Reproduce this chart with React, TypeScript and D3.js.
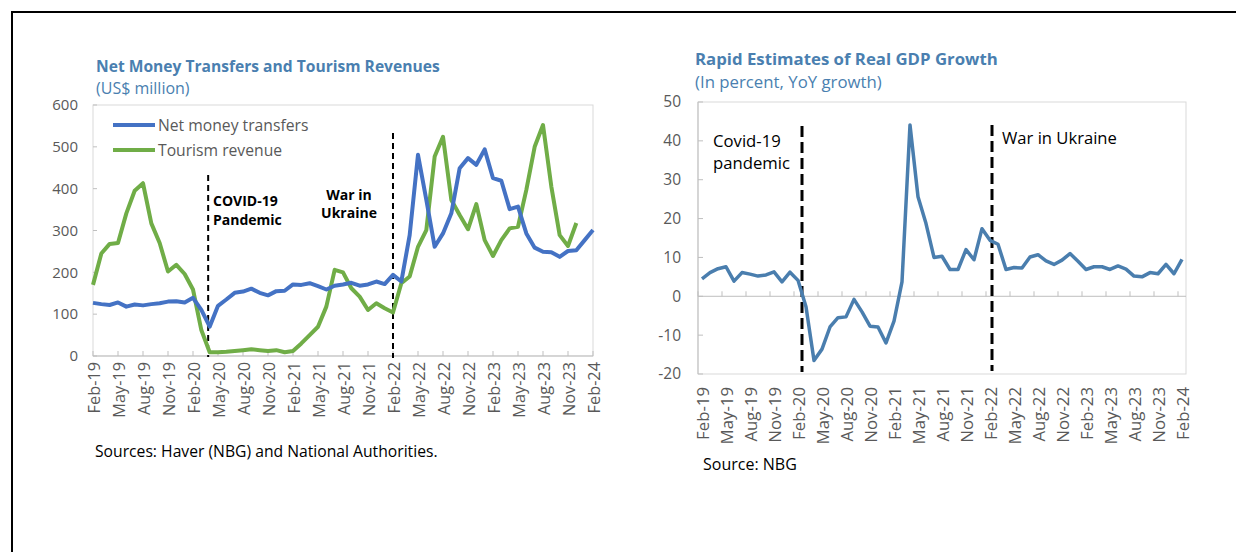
import React from 'react';
import * as d3 from 'd3';

// monthly categories Feb-19 .. Feb-24
const months = d3.timeMonth.range(new Date(2019, 1, 1), new Date(2024, 2, 1));
const tickLabels = [
  'Feb-19', 'May-19', 'Aug-19', 'Nov-19', 'Feb-20', 'May-20', 'Aug-20', 'Nov-20',
  'Feb-21', 'May-21', 'Aug-21', 'Nov-21', 'Feb-22', 'May-22', 'Aug-22', 'Nov-22',
  'Feb-23', 'May-23', 'Aug-23', 'Nov-23', 'Feb-24',
];

// US$ million
const netTransfers = [
  127, 124, 122, 128, 118, 123, 121, 124, 126, 130,
  131, 128, 139, 110, 70, 120, 135, 151, 154, 161,
  151, 145, 155, 156, 171, 170, 174, 167, 159, 168,
  171, 175, 168, 171, 178, 172, 194, 178, 289, 481,
  373, 261, 293, 341, 449, 473, 457, 494, 425, 419,
  351, 357, 293, 259, 249, 248, 237, 251, 253, 277,
  301,
];
const tourism = [
  170, 245, 268, 270, 341, 395, 413, 317, 270, 202,
  218, 196, 159, 62, 9, 9, 10, 12, 14, 16,
  14, 12, 14, 9, 12, 30, 50, 70, 118, 206,
  200, 162, 142, 110, 126, 114, 104, 174, 190, 261,
  301, 477, 524, 373, 337, 303, 363, 277, 239, 277,
  305, 309, 397, 500, 552, 405, 289, 263, 318,
];
// percent, YoY
const gdpGrowth = [
  4.5, 6.1, 7.1, 7.6, 3.9, 6.1, 5.7, 5.2, 5.5, 6.3,
  3.7, 6.2, 4.1, -2.7, -16.5, -13.6, -7.9, -5.5, -5.3, -0.8,
  -4.0, -7.7, -7.9, -12.0, -6.4, 3.7, 44.1, 25.6, 18.7, 10.0,
  10.3, 6.9, 6.9, 12.0, 9.4, 17.4, 14.4, 13.4, 6.9, 7.4,
  7.3, 10.1, 10.7, 9.1, 8.2, 9.3, 11.0, 9.0, 6.9, 7.6,
  7.6, 6.9, 7.8, 7.0, 5.2, 5.0, 6.1, 5.8, 8.2, 5.8,
  9.5,
];
const leftTicks = [0, 100, 200, 300, 400, 500, 600];
const rightTicks = [-20, -10, 0, 10, 20, 30, 40, 50];

const fmt = d3.timeFormat('%b-%y');
const keys = months.map(fmt);

const FONT = "'Open Sans', sans-serif";
const GREY = '#595959';
const TITLE = '#4a7fb0';

const LeftChart = () => {
  const x = d3.scalePoint<string>().domain(keys).range([93, 593]);
  const y = d3.scaleLinear().domain([0, 600]).range([356, 105]);
  const line = d3
    .line<number>()
    .x((_, i) => x(keys[i]) as number)
    .y((d) => y(d));
  const covidX = (x('Apr-20') as number) - 1.5;
  const warX = x('Feb-22') as number;

  return (
    <g fontFamily={FONT}>
      <text x={96} y={72} fontSize={15.6} fontWeight={700} fill={TITLE}>
        Net Money Transfers and Tourism Revenues
      </text>
      <text x={96} y={94} fontSize={16} fill={TITLE}>
        (US$ million)
      </text>
      <rect x={93} y={105} width={500} height={251} fill="none" stroke="#d9d9d9" />
      <line x1={93} x2={593} y1={356} y2={356} stroke="#bfbfbf" />
      {leftTicks.map((t) => (
        <g key={t}>
          <line x1={93} x2={97} y1={y(t)} y2={y(t)} stroke="#bfbfbf" />
          <text x={78} y={y(t)} dy="0.35em" textAnchor="end" fontSize={15} fill={GREY}>
            {t}
          </text>
        </g>
      ))}
      {tickLabels.map((lab) => (
        <g key={lab}>
          <line x1={x(lab)} x2={x(lab)} y1={356} y2={351} stroke="#bfbfbf" />
          <text
            transform={`translate(${(x(lab) as number) + 1},362) rotate(-90)`}
            textAnchor="end"
            dy="0.35em"
            fontSize={16.3}
            fill={GREY}
          >
            {lab}
          </text>
        </g>
      ))}
      <line x1={covidX} x2={covidX} y1={175} y2={357} stroke="#000" strokeWidth={2} strokeDasharray="6,4" />
      <line x1={warX} x2={warX} y1={133} y2={358} stroke="#000" strokeWidth={2} strokeDasharray="6,4" />
      <text x={213} y={206} fontSize={14} fontWeight={700} fill="#000">COVID-19</text>
      <text x={213} y={225} fontSize={14} fontWeight={700} fill="#000">Pandemic</text>
      <text x={349} y={200} fontSize={14} fontWeight={700} fill="#000" textAnchor="middle">War in</text>
      <text x={349} y={218} fontSize={14} fontWeight={700} fill="#000" textAnchor="middle">Ukraine</text>
      <path d={line(tourism) ?? ''} fill="none" stroke="#70ad47" strokeWidth={4} strokeLinejoin="round" />
      <path d={line(netTransfers) ?? ''} fill="none" stroke="#4472c4" strokeWidth={4} strokeLinejoin="round" />
      <line x1={113} x2={155} y1={125} y2={125} stroke="#4472c4" strokeWidth={4} />
      <text x={158} y={131} fontSize={15.7} fill={GREY}>Net money transfers</text>
      <line x1={113} x2={155} y1={150} y2={150} stroke="#70ad47" strokeWidth={4} />
      <text x={158} y={156} fontSize={15.7} fill={GREY}>Tourism revenue</text>
      <text x={95} y={457} fontSize={15.7} fill="#000">
        Sources: Haver (NBG) and National Authorities.
      </text>
    </g>
  );
};

const RightChart = () => {
  const x = d3.scalePoint<string>().domain(keys).range([698, 1186]).padding(0.5);
  const step = x.step();
  const y = d3.scaleLinear().domain([-20, 50]).range([374, 102]);
  const line = d3
    .line<number>()
    .x((_, i) => x(keys[i]) as number)
    .y((d) => y(d));
  const covidX = (x('Feb-20') as number) + 4;
  const warX = (x('Feb-22') as number) + 2;

  return (
    <g fontFamily={FONT}>
      <text x={695} y={65} fontSize={16.8} fontWeight={700} fill={TITLE}>
        Rapid Estimates of Real GDP Growth
      </text>
      <text x={695} y={88} fontSize={16.8} fill={TITLE}>
        (In percent, YoY growth)
      </text>
      <rect x={698} y={102} width={488} height={272} fill="none" stroke="#d9d9d9" />
      <line x1={698} x2={698} y1={102} y2={374} stroke="#bfbfbf" />
      <line x1={698} x2={1186} y1={y(0)} y2={y(0)} stroke="#bfbfbf" />
      {rightTicks.map((t) => (
        <g key={t}>
          <line x1={698} x2={703} y1={y(t)} y2={y(t)} stroke="#bfbfbf" />
          <text x={681} y={y(t)} dy="0.35em" textAnchor="end" fontSize={15.5} fill={GREY}>
            {t}
          </text>
        </g>
      ))}
      {tickLabels.map((lab) => {
        const cx = x(lab) as number;
        return (
          <g key={lab}>
            <line x1={cx - step / 2} x2={cx - step / 2} y1={y(0)} y2={y(0) - 5} stroke="#bfbfbf" />
            <text
              transform={`translate(${cx + 1},387) rotate(-90)`}
              textAnchor="end"
              dy="0.35em"
              fontSize={16.8}
              fill={GREY}
            >
              {lab}
            </text>
          </g>
        );
      })}
      <line x1={covidX} x2={covidX} y1={126} y2={372} stroke="#000" strokeWidth={3} strokeDasharray="11,5" />
      <line x1={warX} x2={warX} y1={125} y2={371} stroke="#000" strokeWidth={3} strokeDasharray="11,5" />
      <text x={713} y={147} fontSize={16.7} fill="#000">Covid-19</text>
      <text x={713} y={169} fontSize={16.7} fill="#000">pandemic</text>
      <text x={1002} y={144} fontSize={16.6} fill="#000">War in Ukraine</text>
      <path d={line(gdpGrowth) ?? ''} fill="none" stroke="#4a7eae" strokeWidth={3.5} strokeLinejoin="round" />
      <text x={703} y={470} fontSize={16} fill="#000">Source: NBG</text>
    </g>
  );
};

export default function App() {
  return (
    <svg
      width={1236}
      height={552}
      style={{ position: 'absolute', left: 0, top: 0, background: '#fff' }}
    >
      <line x1={12} x2={1236} y1={12} y2={12} stroke="#000" strokeWidth={2} />
      <line x1={12} x2={12} y1={11} y2={552} stroke="#000" strokeWidth={2} />
      <LeftChart />
      <RightChart />
    </svg>
  );
}
